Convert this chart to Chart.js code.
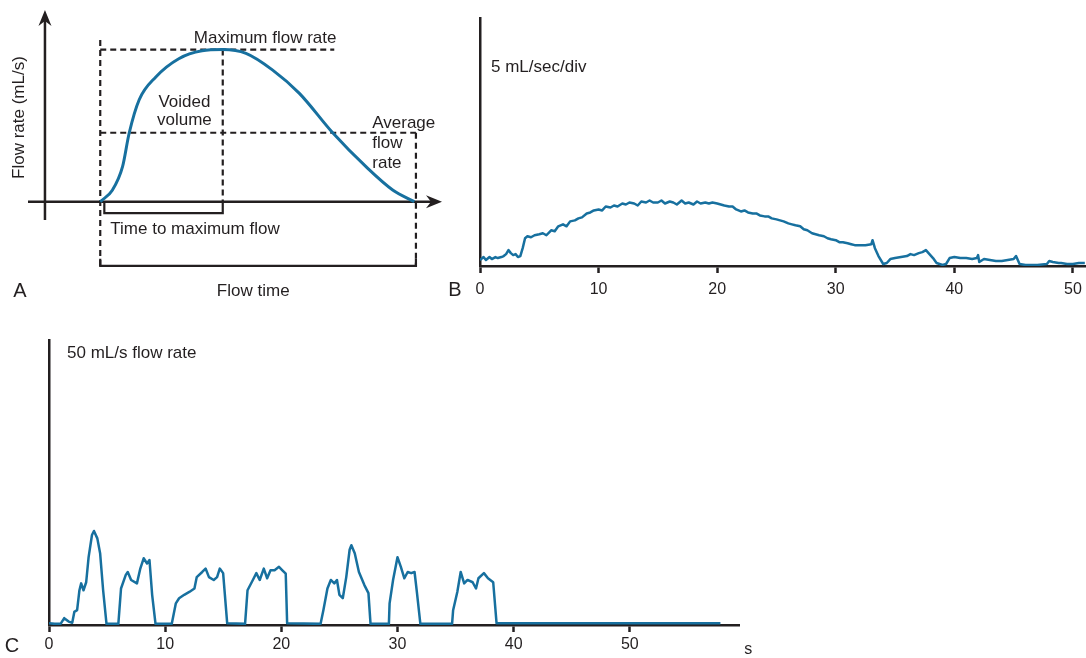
<!DOCTYPE html>
<html>
<head>
<meta charset="utf-8">
<script src="https://cdn.jsdelivr.net/npm/chart.js@4.4.1/dist/chart.umd.min.js"></script>
<style>
  html, body { margin: 0; padding: 0; background: #fff; }
  #page { position: relative; width: 1086px; height: 658px; overflow: hidden; background: #fff; }
  #page canvas { position: absolute; }
</style>
</head>
<body>
<div id="page">
  <canvas id="chartA" width="450" height="310" style="left:0;top:0"></canvas>
  <canvas id="chartB" width="646" height="310" style="left:440px;top:0"></canvas>
  <canvas id="chartC" width="760" height="338" style="left:0;top:320px"></canvas>
</div>
<script>
/* Uroflowmetry: A = schematic curve, B = normal trace, C = intermittent trace */

const ink = '#231f20';
const traceBlue = '#17709f';
const fontFamily = "'Liberation Sans', Arial, Helvetica, sans-serif";

// A — idealised flow curve (schematic units: time 0..10, peak flow 10)
const idealTime = [0, 0.39, 0.71, 0.92, 1.24, 1.77, 2.5, 3.24, 3.9, 4.64, 5.49, 6.34, 7.4, 8.46, 9.31, 10];
const idealFlow = [0, 0.77, 2.3, 4.5, 6.7, 8.2, 9.4, 9.92, 10, 9.75, 8.65, 7.12, 4.53, 2.3, 0.77, 0];
const idealPeakTime = 3.9;
const idealPeakFlow = 10;
const idealAvgFlow = 4.53;
const idealEndTime = 10.05;

// B — normal flow trace (s, mL/s)
const normalTime = [
  0, 0.3, 0.5, 0.8, 1.0, 1.3, 1.5, 1.8, 2.0, 2.2, 2.4, 2.6, 2.8, 3.0, 3.2, 3.4, 3.6, 3.8,
  4.0, 4.3, 4.6, 5.0, 5.3, 5.6, 6.0, 6.3, 6.6, 7.0, 7.3, 7.6, 8.0, 8.3, 8.6, 9.0, 9.3, 9.6,
  10.0, 10.3, 10.6, 11.0, 11.3, 11.6, 12.0, 12.3, 12.6, 13.0, 13.3, 13.6, 14.0, 14.3, 14.6,
  15.0, 15.3, 15.6, 16.0, 16.3, 16.6, 17.0, 17.3, 17.6, 18.0, 18.3, 18.6, 19.0, 19.3, 19.6,
  20.0, 20.3, 20.6, 21.0, 21.3, 21.6, 22.0, 22.3, 22.6, 23.0, 23.3, 23.6, 24.0, 24.3, 24.6,
  25.0, 25.3, 25.6, 26.0, 26.3, 26.6, 27.0, 27.3, 27.6, 28.0, 28.3, 28.6, 29.0, 29.3, 29.6,
  30.0, 30.3, 30.6, 31.0, 31.3, 31.6, 32.0, 32.5, 33.0, 33.1, 33.3, 33.6, 34.0, 34.3, 34.6,
  35.0, 35.5, 36.0, 36.3, 36.6, 37.0, 37.3, 37.6, 37.9, 38.2, 38.5, 39.0, 39.3, 39.6,
  40.0, 40.5, 41.0, 41.5, 41.9, 42.0, 42.1, 42.5, 43.0, 43.5, 44.0, 44.5, 45.0, 45.2, 45.5,
  46.0, 47.0, 47.8, 48.0, 48.3, 48.8, 49.0, 49.5, 50.0, 50.5, 51.0
];
const normalFlow = [
  0.6, 0.9, 0.6, 0.9, 0.7, 0.9, 0.8, 0.9, 1.0, 1.2, 1.6, 1.3, 1.1, 1.2, 0.9, 1.0, 1.8, 2.8,
  3.0, 2.9, 3.1, 3.2, 3.3, 3.1, 3.6, 3.5, 4.0, 4.2, 4.0, 4.5, 4.6, 4.8, 4.9, 5.3, 5.4, 5.6,
  5.7, 5.6, 6.0, 5.9, 6.1, 6.0, 6.3, 6.2, 6.4, 6.3, 6.1, 6.5, 6.4, 6.6, 6.4,
  6.4, 6.6, 6.3, 6.5, 6.4, 6.2, 6.6, 6.3, 6.4, 6.2, 6.5, 6.3, 6.4, 6.3, 6.4,
  6.3, 6.2, 6.1, 6.0, 6.0, 5.7, 5.5, 5.6, 5.4, 5.3, 5.3, 5.1, 5.0, 5.0, 4.8,
  4.7, 4.6, 4.5, 4.3, 4.2, 4.1, 4.0, 3.7, 3.6, 3.3, 3.2, 3.1, 3.0, 2.8, 2.7,
  2.6, 2.4, 2.4, 2.3, 2.2, 2.1, 2.1, 2.1, 2.2, 2.6, 1.8, 1.0, 0.2, 0.3, 0.7,
  0.8, 0.9, 1.0, 1.2, 1.1, 1.3, 1.4, 1.6, 1.2, 0.8, 0.3, 0.1, 0.2, 0.8,
  0.9, 0.8, 0.8, 0.7, 0.8, 1.1, 0.4, 0.7, 0.6, 0.5, 0.5, 0.6, 0.7, 1.0, 0.2,
  0.1, 0.1, 0.2, 0.5, 0.4, 0.3, 0.3, 0.2, 0.2, 0.3, 0.3
];

// C — intermittent (straining) flow trace (s, mL/s)
const intermittentTime = [
  0, 0.5, 1.0, 1.31, 1.69, 2.0, 2.18, 2.42, 2.62, 2.77, 2.97, 3.2, 3.41, 3.7, 3.87, 4.16, 4.4, 4.66, 4.95,
  5.97, 6.2, 6.61, 6.78, 7.07, 7.57, 7.86, 8.15, 8.44, 8.65, 8.88, 9.17,
  10.57, 10.92, 11.2, 11.64, 12.08, 12.52, 12.72, 13.19, 13.48, 13.77, 14.18, 14.47, 14.7, 14.99, 15.34,
  16.88, 17.09, 17.55, 17.85, 18.14, 18.49, 18.78, 19.07, 19.42, 19.8, 20.09, 20.38, 20.5,
  23.38, 23.62, 23.97, 24.26, 24.56, 24.79, 25.0, 25.29, 25.59, 25.88, 26.03, 26.32, 26.68, 27.15, 27.5, 27.68,
  29.26, 29.32, 29.62, 30.0, 30.29, 30.59, 30.88, 31.18, 31.47, 31.68, 31.97,
  34.7, 34.79, 35.15, 35.44, 35.74, 36.03, 36.47, 36.76, 36.97, 37.44, 37.79, 38.24, 38.53,
  57.8
];
const intermittentFlow = [
  0.3, 0.2, 0.2, 1.2, 0.6, 0.4, 2.3, 2.6, 6.1, 7.3, 6.1, 7.5, 11.9, 15.8, 16.5, 15.2, 12.6, 6.1, 0.2,
  0.2, 6.4, 8.8, 9.3, 7.9, 7.3, 9.9, 11.7, 10.8, 11.4, 5.3, 0.2,
  0.2, 3.8, 4.7, 5.3, 5.8, 6.4, 8.4, 9.3, 9.9, 8.4, 7.9, 8.4, 9.9, 9.1, 0.3,
  0.2, 6.1, 7.9, 9.1, 7.9, 9.9, 8.2, 9.6, 9.6, 10.2, 9.6, 9.0, 0.3,
  0.2, 2.6, 6.4, 7.9, 7.3, 7.9, 5.3, 4.7, 8.4, 13.2, 14.0, 12.6, 9.3, 7.0, 5.6, 0.2,
  0.2, 3.8, 7.9, 11.9, 10.2, 8.2, 9.3, 9.1, 9.3, 5.6, 0.2,
  0.2, 2.6, 5.8, 9.3, 7.3, 7.9, 7.5, 6.4, 8.2, 9.1, 8.2, 7.5, 0.3,
  0.3
];

const timeTicks = [0, 10, 20, 30, 40, 50];

Chart.defaults.font.family = fontFamily;
Chart.defaults.color = ink;

const toPoints = (xs, ys) => xs.map((x, i) => ({ x, y: ys[i] }));

// text notes placed in data coordinates
const notesPlugin = (notes, extra) => ({
  id: 'notes',
  afterDraw(chart) {
    const { ctx, scales: { x, y } } = chart;
    ctx.save();
    ctx.fillStyle = ink;
    ctx.textBaseline = 'middle';
    notes.forEach((n) => {
      ctx.font = `${n.size || 17}px ${fontFamily}`;
      ctx.textAlign = n.align || 'left';
      const px = x.getPixelForValue(n.x);
      const py = y.getPixelForValue(n.y);
      if (n.rotate) {
        ctx.save();
        ctx.translate(px, py);
        ctx.rotate(-Math.PI / 2);
        ctx.fillText(n.text, 0, 0);
        ctx.restore();
      } else {
        ctx.fillText(n.text, px, py);
      }
    });
    if (extra) extra(ctx, chart);
    ctx.restore();
  }
});

const panelLetter = (letter, px, py) => (ctx) => {
  ctx.font = `20px ${fontFamily}`;
  ctx.textAlign = 'center';
  ctx.textBaseline = 'middle';
  ctx.fillStyle = ink;
  ctx.fillText(letter, px, py);
};

/* ---------- A: schematic ---------- */

function drawArrowHead(ctx, tipX, tipY, angle) {
  ctx.save();
  ctx.translate(tipX, tipY);
  ctx.rotate(angle);
  ctx.beginPath();
  ctx.moveTo(0, 0);
  ctx.lineTo(-16, -6.5);
  ctx.lineTo(-11, 0);
  ctx.lineTo(-16, 6.5);
  ctx.closePath();
  ctx.fill();
  ctx.restore();
}

const schematicAxes = {
  id: 'schematicAxes',
  beforeDatasetsDraw(chart) {
    const { ctx, chartArea, scales: { x, y } } = chart;
    const ax = x.getPixelForValue(-1.76);
    const ay = y.getPixelForValue(0);
    ctx.save();
    ctx.strokeStyle = ink;
    ctx.fillStyle = ink;
    ctx.lineWidth = 2.5;
    ctx.beginPath();
    ctx.moveTo(ax, y.getPixelForValue(-1.2));
    ctx.lineTo(ax, chartArea.top + 10);
    ctx.moveTo(chartArea.left, ay);
    ctx.lineTo(chartArea.right - 10, ay);
    ctx.stroke();
    drawArrowHead(ctx, ax, chartArea.top, -Math.PI / 2);
    drawArrowHead(ctx, chartArea.right, ay, 0);
    ctx.restore();
  }
};

const dashedLine = (pts) => ({
  data: pts, borderColor: ink, borderWidth: 2.2, borderDash: [6, 4],
  pointRadius: 0, tension: 0, fill: false
});
const solidLine = (pts) => ({
  data: pts, borderColor: ink, borderWidth: 2.2,
  pointRadius: 0, tension: 0, fill: false
});

const notesA = [
  { text: 'Maximum flow rate', x: 5.25, y: 10.75, align: 'center' },
  { text: 'Voided', x: 2.68, y: 6.55, align: 'center' },
  { text: 'volume', x: 2.68, y: 5.37, align: 'center' },
  { text: 'Average', x: 8.66, y: 5.17 },
  { text: 'flow', x: 8.66, y: 3.86 },
  { text: 'rate', x: 8.66, y: 2.54 },
  { text: 'Time to maximum flow', x: 0.32, y: -1.79 },
  { text: 'Flow time', x: 4.87, y: -5.87, align: 'center' },
  { text: 'Flow rate (mL/s)', x: -2.58, y: 5.53, align: 'center', rotate: true }
];

new Chart(document.getElementById('chartA'), {
  type: 'line',
  data: {
    datasets: [
      {
        data: toPoints(idealTime, idealFlow),
        borderColor: traceBlue, borderWidth: 3, pointRadius: 0,
        cubicInterpolationMode: 'monotone', fill: false
      },
      dashedLine([{ x: 0, y: idealPeakFlow }, { x: 7.45, y: idealPeakFlow }]),
      dashedLine([{ x: 0, y: 10.62 }, { x: 0, y: -4.22 }]),
      dashedLine([{ x: idealPeakTime, y: idealPeakFlow }, { x: idealPeakTime, y: 0 }]),
      dashedLine([{ x: 0, y: idealAvgFlow }, { x: idealEndTime, y: idealAvgFlow }]),
      dashedLine([{ x: idealEndTime, y: idealAvgFlow }, { x: idealEndTime, y: -4.22 }]),
      solidLine([{ x: 0.13, y: 0 }, { x: 0.13, y: -0.75 }, { x: idealPeakTime, y: -0.75 }, { x: idealPeakTime, y: 0 }]),
      solidLine([{ x: 0, y: -3.75 }, { x: 0, y: -4.22 }, { x: idealEndTime, y: -4.22 }, { x: idealEndTime, y: -3.75 }])
    ]
  },
  options: {
    responsive: false,
    animation: false,
    devicePixelRatio: 1,
    layout: { padding: { left: 28, right: 8, top: 10, bottom: 40 } },
    plugins: { legend: { display: false }, tooltip: { enabled: false } },
    scales: {
      x: { type: 'linear', min: -2.3, max: 10.88, display: false },
      y: { type: 'linear', min: -4.49, max: 12.6, display: false }
    }
  },
  plugins: [schematicAxes, notesPlugin(notesA, panelLetter('A', 20, 291))]
});

/* ---------- B and C: recorded traces ---------- */

function traceOptions(xMax, yMax, padding, xHeight, tickPad) {
  return {
    responsive: false,
    animation: false,
    devicePixelRatio: 1,
    layout: { padding },
    plugins: { legend: { display: false }, tooltip: { enabled: false } },
    scales: {
      x: {
        type: 'linear', min: 0, max: xMax,
        afterBuildTicks: (s) => { s.ticks = timeTicks.map((v) => ({ value: v })); },
        afterFit: (s) => { s.height = xHeight; s.paddingLeft = 0; s.paddingRight = 0; },
        grid: {
          display: true, drawOnChartArea: false, drawTicks: true,
          tickLength: 7, tickWidth: 2.5, tickColor: ink
        },
        border: { display: true, color: ink, width: 2.5 },
        ticks: { color: ink, font: { size: 16 }, padding: tickPad, maxRotation: 0, autoSkip: false }
      },
      y: {
        type: 'linear', min: 0, max: yMax,
        afterFit: (s) => { s.width = 0; },
        grid: { display: false },
        ticks: { display: false },
        border: { display: true, color: ink, width: 2.5 }
      }
    }
  };
}

const traceDataset = (xs, ys) => ({
  data: toPoints(xs, ys),
  borderColor: traceBlue, borderWidth: 2.5, pointRadius: 0,
  tension: 0, fill: false, borderJoinStyle: 'round'
});

new Chart(document.getElementById('chartB'), {
  type: 'line',
  data: { datasets: [traceDataset(normalTime, normalFlow)] },
  options: traceOptions(51.1, 25, { left: 40, right: 0, top: 18, bottom: 0 }, 44, 7),
  plugins: [notesPlugin(
    [{ text: '5 mL/sec/div', x: 0.93, y: 20.0 }],
    panelLetter('B', 15, 290)
  )]
});

new Chart(document.getElementById('chartC'), {
  type: 'line',
  data: { datasets: [traceDataset(intermittentTime, intermittentFlow)] },
  options: traceOptions(59.4, 50, { left: 49, right: 21, top: 20, bottom: 0 }, 33, 3),
  plugins: [notesPlugin(
    [{ text: '50 mL/s flow rate', x: 1.55, y: 47.7 }],
    (ctx, chart) => {
      panelLetter('C', 12, 326)(ctx, chart);
      ctx.font = `16px ${fontFamily}`;
      ctx.textAlign = 'center';
      ctx.fillText('s', chart.scales.x.getPixelForValue(60.2), chart.chartArea.bottom + 25);
    }
  )]
});
</script>
</body>
</html>
